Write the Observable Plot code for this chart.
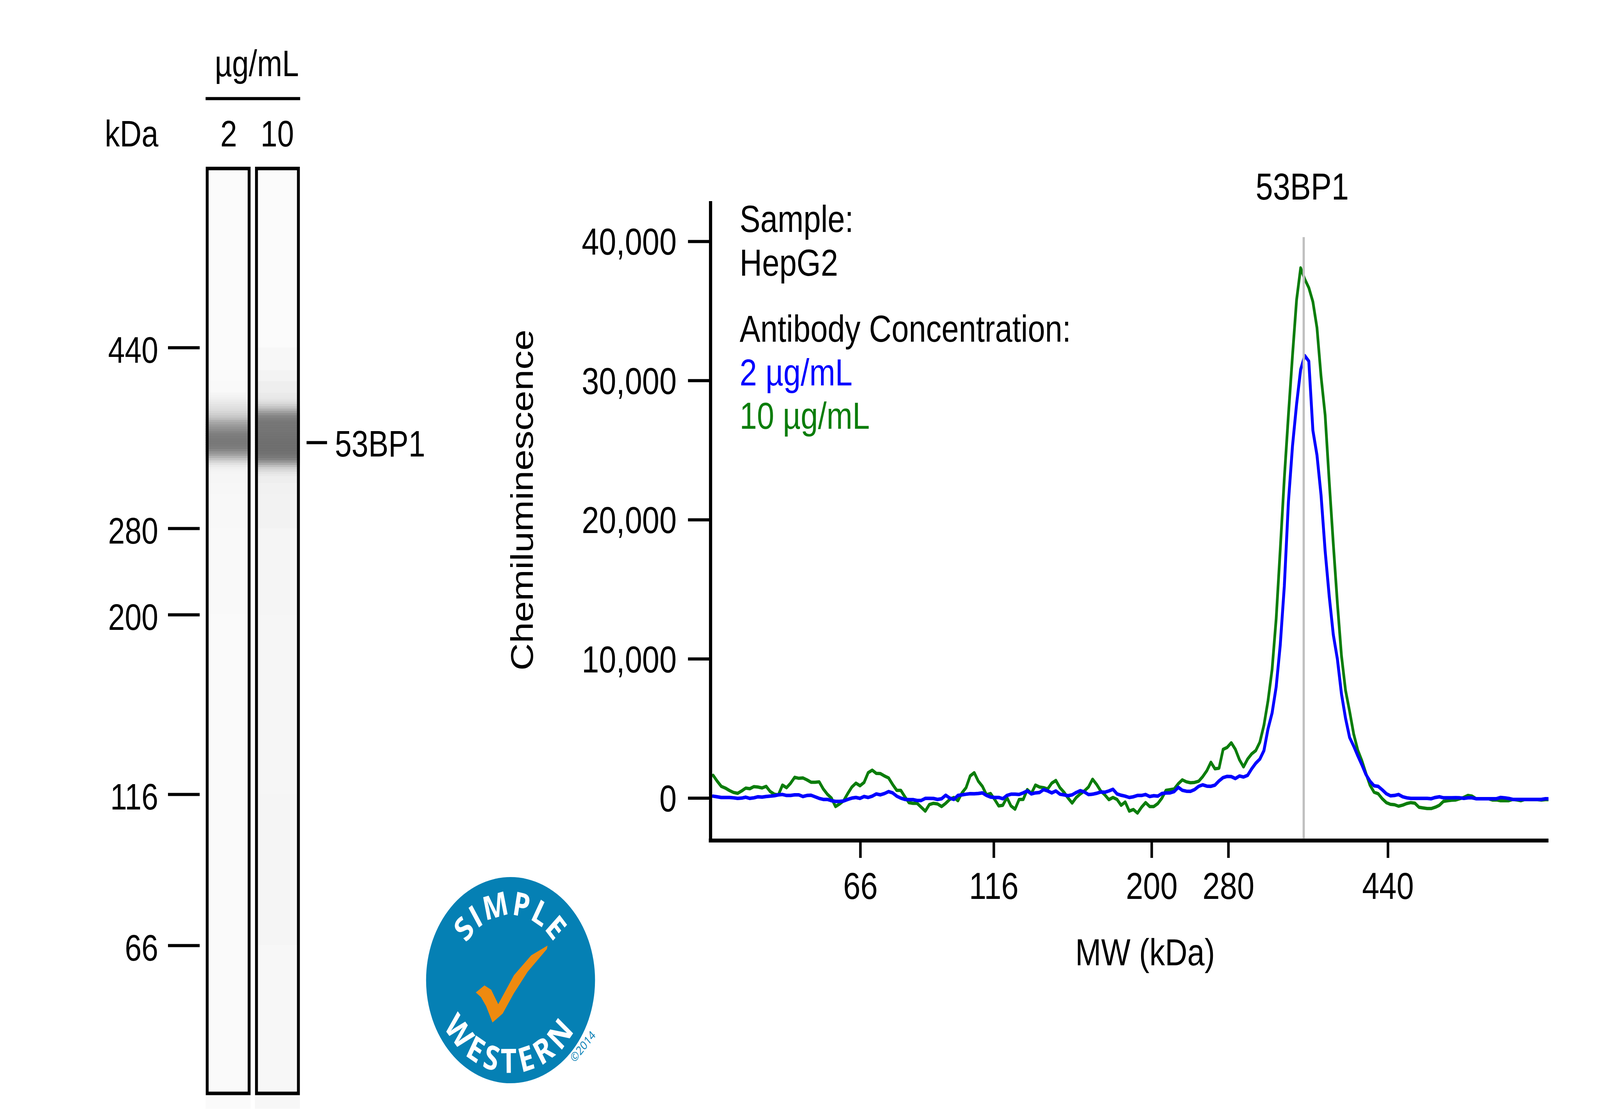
<!DOCTYPE html>
<html>
<head>
<meta charset="utf-8">
<script src="https://cdn.jsdelivr.net/npm/d3@7"></script>
<script src="https://cdn.jsdelivr.net/npm/@observablehq/plot@0.6"></script>
<style>
html,body{margin:0;padding:0;background:#fff;overflow:hidden;}
#stage{position:relative;width:5000px;height:2840px;overflow:hidden;transform-origin:0 0;}
#stage svg{position:absolute;left:0;top:0;background:transparent;max-width:none;}
</style>
</head>
<body>
<div id="stage"></div>
<script>
// ---- electropherogram: chemiluminescence per evenly spaced capillary sample ----
const trace10 = [
1640,1220,850,725,550,410,350,520,725,680,830,800,735,850,475,285,240,940,755,1080,
1500,1430,1455,1315,1145,1145,1175,660,285,5,-600,-415,-180,335,800,1080,895,1130,1830,2015,
1780,1765,1595,1455,985,565,565,100,-320,-370,-370,-650,-930,-460,-370,-415,-600,-370,-90,50,
-180,380,755,1595,1830,1220,850,240,335,-90,-555,-510,50,-555,-790,-90,-90,
615,335,940,800,755,660,1080,1270,755,425,5,-350,50,305,520,800,1360,985,520,240,
-105,50,-90,-510,-275,-930,-815,-1070,-650,-320,-600,-600,-385,5,565,615,660,1035,1315,1175,
1110,1130,1220,1550,1970,2580,2110,2155,3510,3650,3980,3510,2760,2250,2810,3185,3420,4025,5240,
7000,9246,12894,17880,23000,27530,31800,35800,38100,37300,36680,35670,33800,30300,27530,22770,18280,14020,10250,7750,
6240,4610,3450,2700,1780,930,430,320,-40,-320,-440,-470,-575,-500,-385,-320,-360,-650,-700,-745,
-745,-650,-510,-230,-180,-150,-130,-40,55,195,150,-40,-40,-40,-40,-130,-130,-180,-180,-180,
-90,-130,-180,-90,-105,-105,-105,-130,-105,-105];
const trace2 = [
145,100,50,50,50,25,-15,5,70,-15,25,100,80,120,145,175,240,265,195,195,
240,240,120,195,210,100,-15,-90,-90,-180,-230,-230,-200,-90,5,50,-15,120,50,145,
305,240,335,475,380,145,5,-90,-105,-105,-165,-165,-15,-15,-20,-90,-40,210,5,-90,
195,240,285,325,315,335,380,195,80,50,50,-40,195,285,285,265,380,
520,305,380,410,615,520,380,520,285,240,175,240,410,540,445,260,285,350,445,425,
520,640,305,210,145,50,100,195,195,265,120,175,145,335,370,380,475,780,565,500,
490,615,850,960,865,850,940,1240,1480,1565,1550,1410,1595,1520,1640,2110,2510,2810,3420,
4980,6120,7990,11010,15250,21280,25300,28300,30800,31800,31400,26420,24650,21775,17770,14520,11750,10000,7500,5740,
4360,3740,3050,2400,1700,1220,890,850,600,320,170,195,265,100,25,-15,-15,-15,-15,-15,
-40,50,100,25,25,25,35,25,-15,25,25,-40,-40,-40,-40,-40,-40,50,25,-20,
-90,-90,-90,-90,-90,-90,-90,-90,-40,-40];
const sampleIndex = d3.range(Math.min(trace10.length, trace2.length));

// x axis: sample position of each molecular-weight marker
const mwLabels = ["66","116","200","280","440"];
const mwSamplePos = [36.1,68.8,107.5,126.3,165.4];
const peakSamplePos = 144.75;
const peakRuleTop = 40300;
const yTicks = [0,10000,20000,30000,40000];

// ---- gel lanes ----
const laneNames = ["2","10"];
const markerKda = [440,280,200,116,66];
const gelEdges = [600,440,420,410,400,398,396,394,392,390,388,386,384,382,380,378,376,374,372,370,368,366,364,362,360,358,356,354,352,350,348,346,344,342,340,338,336,334,332,330,328,326,320,310,300,280,200,116,66,12];
const laneGray2 = [251,251,250,249,245,243,240,236,232,228,224,220,214,208,200,190,175,165,155,147,140,132,126,123,121,120,120,122,125,135,148,160,178,195,212,225,234,240,243,245,246,246,247,248,248,249,250,250,250];
const laneGray10 = [251,247,243,238,234,233,231,226,219,208,195,178,160,145,132,126,121,118,117,116,116,115,114,113,112,111,110,110,110,111,113,116,120,130,148,168,190,208,218,228,233,238,241,242,242,245,246,245,247];

// ---- text ----
const unitTitle = "µg/mL";
const kdaTitle = "kDa";
const targetName = "53BP1";
const sampleLines = ["Sample:","HepG2"];
const concTitle = "Antibody Concentration:";
const concLabels = ["2 µg/mL","10 µg/mL"];
const xTitle = "MW (kDa)";
const yTitle = "Chemiluminescence";

const FONT = "Liberation Sans, Arial, sans-serif";
const BLUE = "#0000ff", GREEN = "#0b7d0b";
const stage = document.getElementById("stage");
// The design is 5000 wide; fit it to whatever width the window really has.
stage.style.transform = `scaleX(${window.innerWidth/5000})`;

// ---------- Gel ----------
const gelRows = laneNames.flatMap((lane,l) =>
  (l ? laneGray10 : laneGray2).map((g,i) => ({lane, top:gelEdges[i], bottom:gelEdges[i+1], shade:`rgb(${g},${g},${g})`})));
const gelFrames = laneNames.map(lane => ({lane, top:600, bottom:16.45}));
stage.append(Plot.plot({
  width:5000, height:2840, marginLeft:624, marginRight:0, marginTop:0, marginBottom:0,
  style:{background:"transparent", fontFamily:FONT},
  x:{type:"band", domain:laneNames, range:[642.5,937.5], paddingInner:0.09, paddingOuter:0, axis:null},
  y:{type:"linear", domain:markerKda, range:[890,1353,1574,2034,2421], axis:null},
  color:{type:"identity"},
  marks:[
    Plot.barY(gelRows,{x:"lane", y1:"top", y2:"bottom", fill:"shade", stroke:"shade", strokeWidth:0.6}),
    Plot.barY(gelFrames,{x:"lane", y1:"top", y2:"bottom", fill:"none", stroke:"black", strokeWidth:9, inset:4.5}),
    Plot.axisY(markerKda,{anchor:"left", tickSize:99, strokeWidth:8, text:null, label:null}),
    Plot.text(markerKda,{y:d=>d, text:d=>String(d), frameAnchor:"left", dx:-130, dy:8, textAnchor:"end", fontSize:94, fill:"black"})
  ]
}));

// ---------- Electropherogram ----------
const Y0 = -3044, Y1 = 42888;
stage.append(Plot.plot({
  width:5000, height:2840, marginLeft:2220, marginRight:161, marginTop:515, marginBottom:688,
  style:{background:"transparent", fontFamily:FONT},
  x:{type:"linear", domain:[-0.627,204.78], range:[2220,4839], axis:null},
  y:{type:"linear", domain:[Y0,Y1], range:[2152,515], axis:null},
  marks:[
    Plot.line(sampleIndex,{x:i=>i, y:i=>trace10[i], stroke:GREEN, strokeWidth:8.5, clip:true}),
    Plot.line(sampleIndex,{x:i=>i, y:i=>trace2[i], stroke:BLUE, strokeWidth:9, clip:true}),
    Plot.ruleX([peakSamplePos],{y1:peakRuleTop, y2:Y0+140, stroke:"#bfbfbf", strokeWidth:7}),
    Plot.ruleX([-0.627],{stroke:"black", strokeWidth:10}),
    Plot.ruleY([Y0],{stroke:"black", strokeWidth:10, insetLeft:-5}),
    Plot.axisY(yTicks,{anchor:"left", tickSize:70, strokeWidth:8, text:null, label:null}),
    Plot.text(yTicks,{y:d=>d, text:d=>d3.format(",")(d), frameAnchor:"left", dx:-106, dy:3, textAnchor:"end", fontSize:97, fill:"black"}),
    Plot.axisX(mwSamplePos,{anchor:"bottom", tickSize:45, tickPadding:36, strokeWidth:8, fontSize:97, label:null,
      tickFormat:d=>mwLabels[mwSamplePos.indexOf(d)], fill:"black"})
  ]
}));

// ---------- Annotations and logo ----------
function label(text,x,baseline,{fs=97,anchor="start",fill="black",rotate=0}={}){
  const off = 0.32*fs;
  const px = rotate ? x-off : x;
  const py = rotate ? baseline : baseline-off;
  return Plot.text([text],{x:()=>px, y:()=>py, text:d=>d, textAnchor:anchor, fontSize:fs, fill, rotate});
}
function logoMark(cx,cy){
  return () => {
    const g = d3.create("svg:g").attr("transform",`translate(${cx},${cy})`);
    const defs = g.append("defs");
    const arc = (id,r,a,sweep) => {
      const s=Math.sin(a*Math.PI/180)*r, c=Math.cos(a*Math.PI/180)*r;
      const yy = sweep ? -c : c;
      defs.append("path").attr("id",id).attr("d",`M${-s},${yy}A${r},${r} 0 0 ${sweep} ${s},${yy}`);
    };
    arc("logoTop",166,80,1);
    arc("logoBottom",238,80,0);
    const t = (id,str,fs,ls) => g.append("text").attr("font-family","Open Sans").attr("font-weight",700)
      .attr("font-size",fs).attr("fill","white").attr("text-anchor","middle").attr("letter-spacing",ls)
      .append("textPath").attr("href","#"+id).attr("startOffset","50%").text(str);
    t("logoTop","SIMPLE",84,4);
    t("logoBottom","WESTERN",86,14);
    const check = [[-108,32],[-81,14],[-60,25],[-38,62],[11,-12],[65,-63],[116,-88],[114,-79],[54,-21],[11,34],[-24,86],[-56,109],[-76,67],[-92,44]];
    g.append("path").attr("d",d3.line().curve(d3.curveLinearClosed)(check)).attr("fill","#ef8a0f");
    g.append("text").attr("transform","translate(234,178) rotate(-46)").attr("text-anchor","middle")
      .attr("font-family","Open Sans").attr("font-size",31).attr("fill","#0580b4").text("©2014");
    return g.node();
  };
}
stage.append(Plot.plot({
  width:5000, height:2840, margin:0,
  style:{background:"transparent", fontFamily:FONT},
  x:{type:"identity", axis:null}, y:{type:"identity", axis:null},
  marks:[
    // gel headings
    label(unitTitle,802,194,{fs:94,anchor:"middle"}),
    Plot.ruleY([252],{x1:()=>642.5,x2:()=>938,y:()=>252,stroke:"black",strokeWidth:8}),
    label(laneNames[0],714,374,{fs:94,anchor:"middle"}),
    label(laneNames[1],866,374,{fs:94,anchor:"middle"}),
    label(kdaTitle,327,374,{fs:94}),
    Plot.ruleY([1133],{x1:()=>958,x2:()=>1022,y:()=>1133,stroke:"black",strokeWidth:8}),
    label(targetName,1046,1168,{fs:94}),
    // chart text
    label(targetName,4069,510,{anchor:"middle"}),
    label(sampleLines[0],2311,593.5),
    label(sampleLines[1],2311,705),
    label(concTitle,2311,874),
    label(concLabels[0],2311,986,{fill:BLUE}),
    label(concLabels[1],2311,1097,{fill:GREEN}),
    label(xTitle,3578,2471,{anchor:"middle"}),
    label(yTitle,1665,1280,{anchor:"middle",rotate:-90}),
    // logo
    Plot.dot([0],{x:()=>1595,y:()=>2509.6,r:264,fill:"#0580b4",stroke:"none"}),
    logoMark(1595,2509.6)
  ]
}));
</script>
</body>
</html>
